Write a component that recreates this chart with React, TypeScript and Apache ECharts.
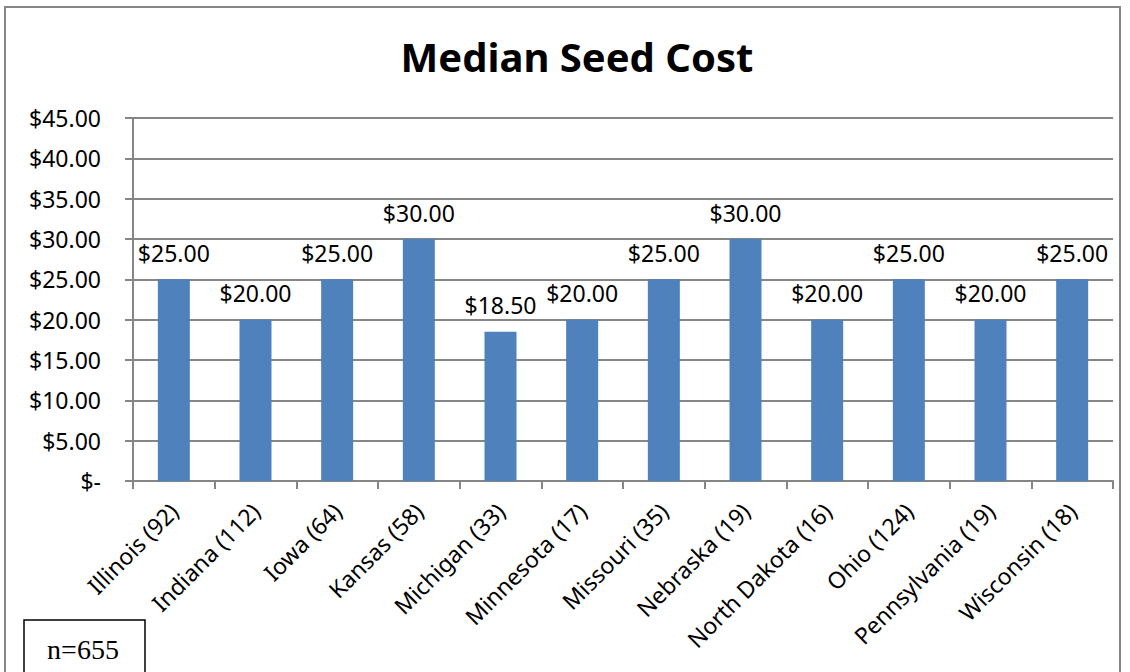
import React, { useEffect, useRef } from "react";
import * as echarts from "echarts";

const categories = [
  "Illinois (92)",
  "Indiana (112)",
  "Iowa (64)",
  "Kansas (58)",
  "Michigan (33)",
  "Minnesota (17)",
  "Missouri (35)",
  "Nebraska (19)",
  "North Dakota (16)",
  "Ohio (124)",
  "Pennsylvania (19)",
  "Wisconsin (18)",
];
const medianCost = [25, 20, 25, 30, 18.5, 20, 25, 30, 20, 25, 20, 25];
const titleText = "Median Seed Cost";
const noteText = "n=655";

const FONT = "'Noto Sans', sans-serif";

function money(v: number): string {
  return v === 0 ? "$-" : "$" + v.toFixed(2);
}

export default function App() {
  const ref = useRef<HTMLDivElement>(null);
  useEffect(() => {
    document.body.style.margin = "0";
    const chart = echarts.init(ref.current!, null, { renderer: "svg" });
    chart.setOption({
      animation: false,
      backgroundColor: "#ffffff",
      title: {
        text: titleText,
        left: 572,
        top: 31,
        textAlign: "center",
        textStyle: { fontFamily: FONT, fontWeight: "bold", fontSize: 40, color: "#000" },
      },
      grid: { left: 133, right: 17, top: 118, bottom: 191, containLabel: false },
      xAxis: {
        type: "category",
        data: categories,
        axisLine: { lineStyle: { color: "#868686", width: 2 } },
        axisTick: { show: true, length: 8, alignWithLabel: false, lineStyle: { color: "#868686", width: 2 } },
        axisLabel: {
          rotate: 45,
          margin: 26,
          interval: 0,
          fontFamily: FONT,
          fontSize: 23,
          color: "#000",
        },
      },
      yAxis: {
        type: "value",
        min: 0,
        max: 45,
        interval: 5,
        axisLine: { show: true, lineStyle: { color: "#868686", width: 2 } },
        axisTick: { show: true, length: 8, lineStyle: { color: "#868686", width: 2 } },
        splitLine: { show: true, lineStyle: { color: "#868686", width: 2 } },
        axisLabel: {
          formatter: (v: number) => money(v),
          margin: 32,
          fontFamily: FONT,
          fontSize: 23,
          color: "#000",
        },
      },
      series: [
        {
          type: "bar",
          data: medianCost,
          barWidth: 32,
          itemStyle: { color: "#4F81BD" },
          label: {
            show: true,
            position: "top",
            distance: 15,
            formatter: (p: any) => money(p.value),
            fontFamily: FONT,
            fontSize: 23,
            color: "#000",
          },
        },
      ],
      graphic: [
        {
          type: "rect",
          shape: { x: 5, y: 7, width: 1115, height: 700 },
          style: { fill: "none", stroke: "#868686", lineWidth: 2 },
          silent: true,
        },
        {
          type: "rect",
          shape: { x: 24, y: 620, width: 121, height: 70 },
          style: { fill: "#fff", stroke: "#000", lineWidth: 1.5 },
        },
        {
          type: "text",
          x: 83,
          y: 649,
          style: {
            text: noteText,
            fontFamily: "'Liberation Serif', 'DejaVu Serif', serif",
            fontSize: 28,
            fill: "#000",
            align: "center",
            verticalAlign: "middle",
          },
        },
      ],
    });
    return () => chart.dispose();
  }, []);
  return <div ref={ref} style={{ width: 1130, height: 672 }} />;
}
